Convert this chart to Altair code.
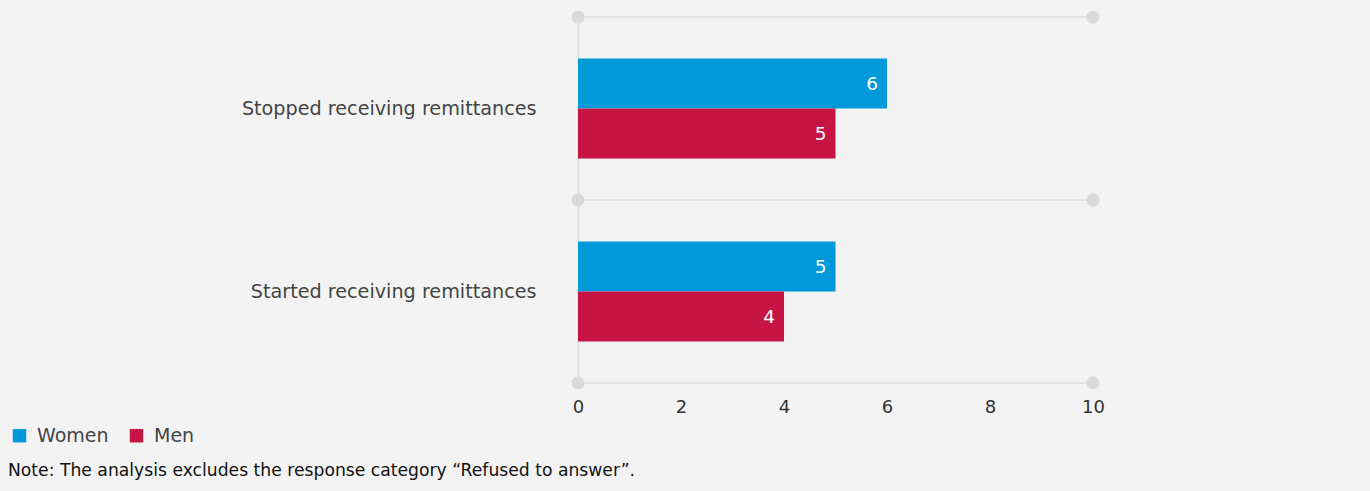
import altair as alt
import pandas as pd

categories = ["Stopped receiving remittances", "Started receiving remittances"]
groups = ["Women", "Men"]
women = [6, 5]
men = [5, 4]
colors = ["#0099da", "#c61443"]
boundaries = [0, 1, 2]
x_ends = [0, 10]
x_ticks = [0, 2, 4, 6, 8, 10]
note = "Note: The analysis excludes the response category \u201cRefused to answer\u201d."

FONT = "DejaVu Sans"

rows = []
for c, w, m in zip(categories, women, men):
    rows.append({"category": c, "group": "Women", "value": w})
    rows.append({"category": c, "group": "Men", "value": m})
df = pd.DataFrame(rows)

grid_rows = [{"b": b, "x0": x_ends[0], "x1": x_ends[1]} for b in boundaries]
grid_df = pd.DataFrame(grid_rows)
dot_df = pd.DataFrame([{"b": b, "x": xe} for b in boundaries for xe in x_ends])
note_df = pd.DataFrame({"note": [note]})

xscale = alt.Scale(domain=[0, 10], nice=False)

base = alt.Chart(df)
bars = base.mark_bar().encode(
    y=alt.Y("category:N", sort=categories, title=None,
            scale=alt.Scale(paddingInner=0, paddingOuter=0),
            axis=alt.Axis(domain=True, domainColor="#dcdcdc", domainWidth=1.5, ticks=False,
                          labelFontSize=19.2, labelColor="#444444", labelFont=FONT,
                          labelPadding=42, grid=False, labelLimit=400)),
    yOffset=alt.YOffset("group:N", sort=groups,
                        scale=alt.Scale(paddingInner=0, paddingOuter=0.83)),
    x=alt.X("value:Q", scale=xscale, title=None,
            axis=alt.Axis(values=x_ticks, domain=False, ticks=False, grid=False,
                          labelFontSize=18, labelColor="#333333", labelFont=FONT,
                          labelPadding=15, labelFlush=False)),
    color=alt.Color("group:N", sort=groups,
                    scale=alt.Scale(domain=groups, range=colors),
                    legend=alt.Legend(title=None, orient="none", legendX=-568, legendY=409,
                                      direction="horizontal", symbolType="square",
                                      symbolSize=180, symbolStrokeWidth=0,
                                      labelFontSize=19, labelColor="#444444",
                                      labelFont=FONT, columnPadding=18, labelOffset=8)),
)
labels = base.mark_text(align="right", baseline="middle", dx=-9, color="white",
                        fontSize=18.5, font=FONT).encode(
    y=alt.Y("category:N", sort=categories),
    yOffset=alt.YOffset("group:N", sort=groups),
    x=alt.X("value:Q", scale=xscale),
    text=alt.Text("value:Q"),
)
bar_layer = alt.layer(bars, labels)

rules = alt.Chart(grid_df).mark_rule(color="#dcdcdc", strokeWidth=1.5).encode(
    y=alt.Y("b:Q", scale=alt.Scale(domain=[0, 2], nice=False), axis=None),
    x=alt.X("x0:Q", scale=xscale),
    x2="x1:Q",
)
dots = alt.Chart(dot_df).mark_circle(color="#d9d9d9", opacity=1, size=170).encode(
    y=alt.Y("b:Q", scale=alt.Scale(domain=[0, 2], nice=False), axis=None),
    x=alt.X("x:Q", scale=xscale),
)
grid_layer = alt.layer(rules, dots)

note_layer = alt.Chart(note_df).mark_text(align="left", baseline="middle", fontSize=17.2,
                                           font=FONT, color="#111111").encode(
    x=alt.value(-570), y=alt.value(454), text="note:N")

chart = alt.layer(grid_layer, bar_layer, note_layer).resolve_scale(
    y="independent", yOffset="independent"
).properties(
    width=515, height=366,
    background="#f3f3f3",
    autosize=alt.AutoSizeParams(type="none"),
    padding={"left": 578, "top": 17, "right": 277, "bottom": 108},
).configure_view(stroke=None)

chart.save("out.html", embed_options={"renderer": "svg", "actions": False})
